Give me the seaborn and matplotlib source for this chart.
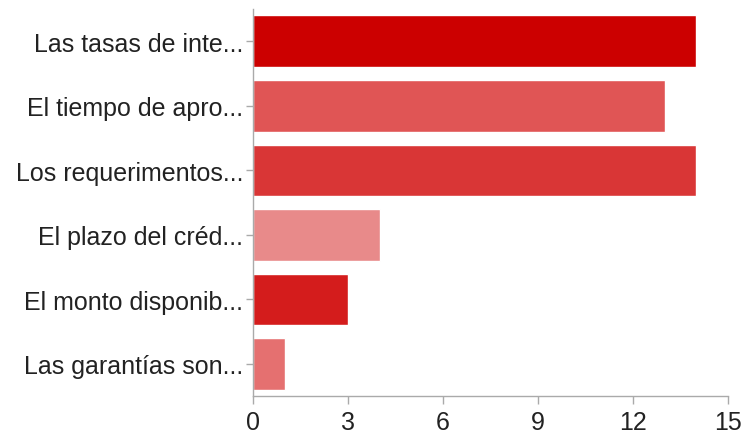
import matplotlib
matplotlib.use("Agg")
import matplotlib.pyplot as plt
import seaborn as sns
import pandas as pd

categories = ["Las tasas de inte...", "El tiempo de apro...", "Los requerimentos...",
              "El plazo del créd...", "El monto disponib...", "Las garantías son..."]
values = [14, 13, 14, 4, 3, 1]
bar_colors = ["#CC0000", "#E05555", "#D93636", "#E88A8A", "#D41C1C", "#E57070"]

sns.set_style("white")
plt.rcParams['font.family'] = ['Liberation Sans', 'DejaVu Sans']

df = pd.DataFrame({"cat": categories, "val": values})

fig = plt.figure(figsize=(7.45, 4.35), dpi=100)
ax = fig.add_axes([0.3396, 0.087, 0.977 - 0.3396, 0.890])
sns.barplot(data=df, x="val", y="cat", hue="cat", palette=bar_colors,
            legend=False, width=0.8, ax=ax, saturation=1)

ax.set_xlim(0, 15)
ax.set_ylim(5.5, -0.5)
ax.set_xticks([0, 3, 6, 9, 12, 15])
ax.set_xlabel("")
ax.set_ylabel("")
for s in ["top", "right"]:
    ax.spines[s].set_visible(False)
for s in ["left", "bottom"]:
    ax.spines[s].set_color("#AAAAAA")
    ax.spines[s].set_linewidth(1)
ax.tick_params(axis="both", left=True, bottom=True, direction="out", colors="#AAAAAA",
               length=5, width=1, labelcolor="#222222", labelsize=18, pad=2)
ax.tick_params(axis="x", labelsize=18, length=6, pad=4)

fig.savefig("out.png", dpi=100)
